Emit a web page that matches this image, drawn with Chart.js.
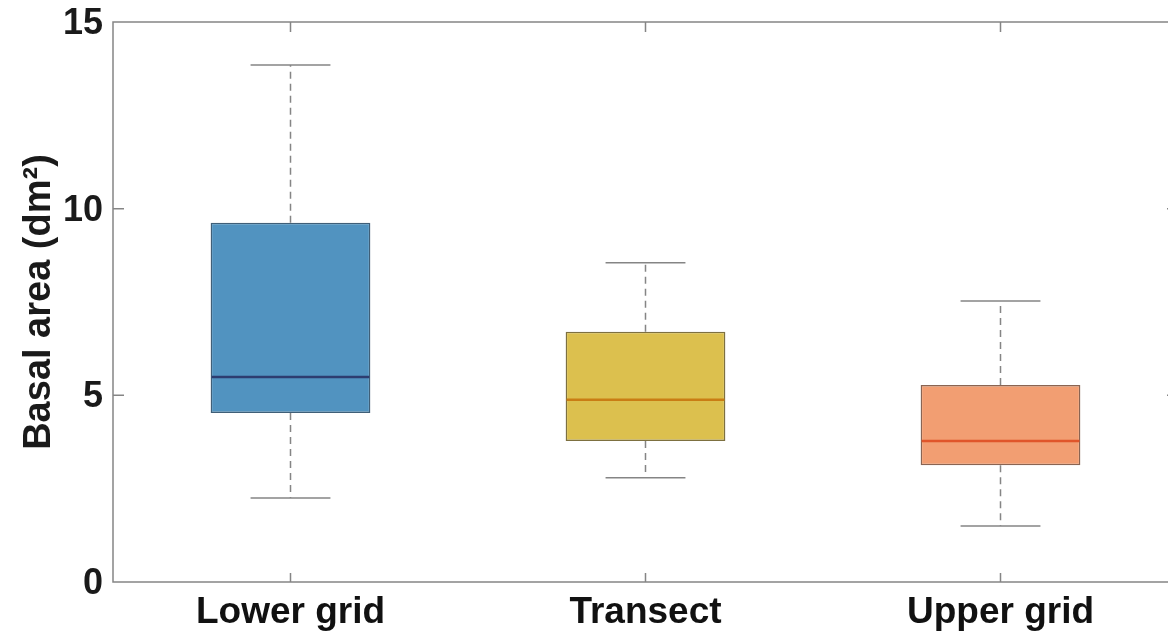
<!DOCTYPE html>
<html>
<head>
<meta charset="utf-8">
<script src="https://cdn.jsdelivr.net/npm/chart.js@4"></script>
<style>
  html, body { margin: 0; padding: 0; background: #fff; overflow: hidden; }
  #wrap { position: relative; width: 1178px; height: 635px; }
</style>
</head>
<body>
<div id="wrap"><canvas id="boxChart"></canvas></div>
<script>
// === data ===
const groups = ['Lower grid', 'Transect', 'Upper grid'];
const whiskerLow  = [2.25, 2.79, 1.50];
const q1          = [4.53, 3.78, 3.13];
const medians     = [5.49, 4.88, 3.78];
const q3          = [9.62, 6.70, 5.28];
const whiskerHigh = [13.85, 8.55, 7.53];
const yTicks = [0, 5, 10, 15];

const fillColors   = ['#5193c0', '#dcc04e', '#f29e72'];
const edgeColors   = ['#3f5f78', '#7d7040', '#8a6452'];
const medianColors = ['#2d3d70', '#c97d14', '#e0552a'];
const axisGray = '#858585';

// whiskers, caps, medians, inner ticks and frame
const boxExtras = {
    id: 'boxExtras',
    afterDatasetsDraw(chart) {
        const { ctx, chartArea: a, scales: { x, y } } = chart;
        const meta = chart.getDatasetMeta(0);
        ctx.save();
        meta.data.forEach((bar, i) => {
            const cx = bar.x;
            const half = bar.width / 2;
            // whiskers (dashed)
            ctx.strokeStyle = axisGray;
            ctx.lineWidth = 1.5;
            ctx.setLineDash([7, 5]);
            ctx.beginPath();
            ctx.moveTo(cx, y.getPixelForValue(q3[i]));
            ctx.lineTo(cx, y.getPixelForValue(whiskerHigh[i]));
            ctx.moveTo(cx, y.getPixelForValue(q1[i]));
            ctx.lineTo(cx, y.getPixelForValue(whiskerLow[i]));
            ctx.stroke();
            // caps
            ctx.setLineDash([]);
            ctx.beginPath();
            [whiskerHigh[i], whiskerLow[i]].forEach(v => {
                const py = y.getPixelForValue(v);
                ctx.moveTo(cx - half / 2, py);
                ctx.lineTo(cx + half / 2, py);
            });
            ctx.stroke();
            // median
            ctx.strokeStyle = medianColors[i];
            ctx.lineWidth = 2.5;
            ctx.beginPath();
            const my = y.getPixelForValue(medians[i]);
            ctx.moveTo(cx - half + 1, my);
            ctx.lineTo(cx + half - 1, my);
            ctx.stroke();
        });
        // frame + inward ticks
        ctx.strokeStyle = axisGray;
        ctx.lineWidth = 1.5;
        ctx.beginPath();
        ctx.rect(a.left, a.top, a.right - a.left, a.bottom - a.top);
        groups.forEach((g, i) => {
            const px = x.getPixelForValue(i);
            ctx.moveTo(px, a.bottom); ctx.lineTo(px, a.bottom - 9);
            ctx.moveTo(px, a.top); ctx.lineTo(px, a.top + 10);
        });
        yTicks.forEach(v => {
            const py = y.getPixelForValue(v);
            ctx.moveTo(a.left, py); ctx.lineTo(a.left + 11, py);
            ctx.moveTo(a.right, py); ctx.lineTo(a.right - 11, py);
        });
        ctx.stroke();
        ctx.restore();
    }
};

new Chart(document.getElementById('boxChart'), {
    type: 'bar',
    data: {
        labels: groups,
        datasets: [{
            data: groups.map((g, i) => [q1[i], q3[i]]),
            backgroundColor: fillColors,
            borderColor: edgeColors,
            borderWidth: 1.5,
            borderSkipped: false,
            categoryPercentage: 1,
            barPercentage: 0.45
        }]
    },
    options: {
        responsive: true,
        maintainAspectRatio: false,
        animation: false,
        layout: { padding: { top: 22, right: 0, left: 0, bottom: 0 } },
        plugins: { legend: { display: false }, tooltip: { enabled: false } },
        scales: {
            x: {
                offset: true,
                grid: { display: false, drawTicks: false },
                border: { display: false },
                ticks: {
                    padding: 9,
                    color: '#111',
                    font: { family: 'Liberation Sans, Arial, sans-serif', size: 37, weight: 'bold' }
                },
                afterFit: s => { s.height = 53; s.paddingLeft = 0; s.paddingRight = 0; }
            },
            y: {
                min: 0, max: 15,
                afterBuildTicks: s => { s.ticks = yTicks.map(v => ({ value: v })); },
                grid: { display: false, drawTicks: false },
                border: { display: false },
                ticks: {
                    padding: 10,
                    labelOffset: 2,
                    color: '#1a1a1a',
                    font: { family: 'Liberation Sans, Arial, sans-serif', size: 36, weight: 'bold' }
                },
                title: {
                    display: true,
                    text: 'Basal area (dm²)',
                    color: '#1a1a1a',
                    padding: { top: 17, bottom: 0 },
                    font: { family: 'Liberation Sans, Arial, sans-serif', size: 38, weight: 'bold' }
                },
                afterFit: s => { s.width = 113; s.paddingTop = 0; s.paddingBottom = 0; }
            }
        }
    },
    plugins: [boxExtras]
});
</script>
</body>
</html>
